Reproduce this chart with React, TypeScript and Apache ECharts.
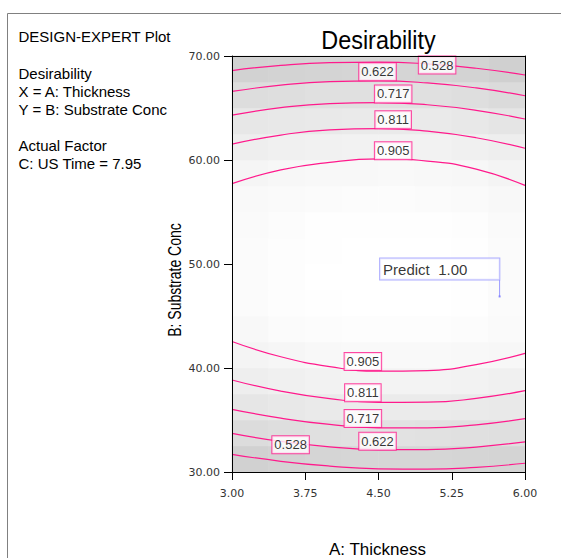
import React, { useEffect, useRef } from 'react';
import * as echarts from 'echarts';

// Axis ranges / ticks
const X_MIN = 3.0, X_MAX = 6.0, X_STEP = 0.75;
const Y_MIN = 30, Y_MAX = 70, Y_STEP = 10;

// Background shading (desirability estimate per cell), rows bottom -> top
const HEAT_X = ['3.19', '3.56', '3.94', '4.31', '4.69', '5.06', '5.44', '5.81'];
const HEAT_Y = ['31.25', '33.75', '36.25', '38.75', '41.25', '43.75', '46.25', '48.75',
  '51.25', '53.75', '56.25', '58.75', '61.25', '63.75', '66.25', '68.75'];
const HEAT_ROWS: number[][] = [
  [0.520, 0.544, 0.562, 0.572, 0.576, 0.574, 0.566, 0.554],
  [0.636, 0.661, 0.680, 0.690, 0.694, 0.691, 0.682, 0.667],
  [0.736, 0.761, 0.780, 0.790, 0.794, 0.791, 0.781, 0.766],
  [0.820, 0.844, 0.861, 0.872, 0.875, 0.872, 0.862, 0.846],
  [0.885, 0.909, 0.926, 0.937, 0.940, 0.937, 0.929, 0.915],
  [0.930, 0.955, 0.970, 0.977, 0.980, 0.978, 0.968, 0.950],
  [0.960, 0.980, 0.994, 0.999, 1.000, 0.998, 0.985, 0.960],
  [0.962, 0.982, 0.996, 1.000, 1.000, 0.999, 0.986, 0.962],
  [0.960, 0.980, 0.994, 0.999, 1.000, 0.998, 0.985, 0.958],
  [0.950, 0.972, 0.985, 0.989, 0.990, 0.987, 0.975, 0.948],
  [0.935, 0.950, 0.960, 0.964, 0.965, 0.962, 0.952, 0.930],
  [0.895, 0.912, 0.924, 0.931, 0.934, 0.929, 0.913, 0.887],
  [0.828, 0.845, 0.858, 0.865, 0.868, 0.862, 0.845, 0.818],
  [0.747, 0.762, 0.774, 0.781, 0.783, 0.777, 0.760, 0.733],
  [0.645, 0.661, 0.673, 0.680, 0.682, 0.676, 0.658, 0.628],
  [0.528, 0.543, 0.554, 0.560, 0.562, 0.556, 0.539, 0.510],
];

// Contour lines: B: Substrate Conc read at A: Thickness = 3.0, 3.5, ..., 6.0
const CONTOUR_X = [3.0, 3.5, 4.0, 4.5, 5.0, 5.5, 6.0];
const TOP_0528 = [68.60, 69.10, 69.37, 69.42, 69.24, 68.82, 68.17];
const TOP_0622 = [66.59, 67.20, 67.54, 67.61, 67.41, 66.93, 66.18];
const TOP_0717 = [64.31, 65.03, 65.43, 65.52, 65.31, 64.78, 63.94];
const TOP_0811 = [61.52, 62.40, 62.90, 63.02, 62.77, 62.14, 61.13];
const TOP_0905 = [57.73, 59.05, 59.78, 60.10, 59.90, 59.12, 57.56];
const BOT_0905 = [42.55, 41.08, 40.13, 39.69, 39.75, 40.33, 41.41];
const BOT_0811 = [38.85, 37.77, 37.05, 36.70, 36.71, 37.08, 37.82];
const BOT_0717 = [36.03, 35.18, 34.57, 34.25, 34.24, 34.54, 35.14];
const BOT_0622 = [33.72, 32.94, 32.42, 32.16, 32.15, 32.40, 32.90];
const BOT_0528 = [31.70, 31.03, 30.57, 30.31, 30.27, 30.45, 30.84];
const CONTOURS = [TOP_0528, TOP_0622, TOP_0717, TOP_0811, TOP_0905, BOT_0905, BOT_0811, BOT_0717, BOT_0622, BOT_0528];

// Contour labels [x, y, text]
const CONTOUR_LABELS: [number, number, string][] = [
  [5.10, 69.13, '0.528'], [4.49, 68.49, '0.622'], [4.65, 66.35, '0.717'], [4.65, 63.88, '0.811'], [4.65, 60.88, '0.905'],
  [4.34, 40.62, '0.905'], [4.34, 37.62, '0.811'], [4.34, 35.14, '0.717'], [4.49, 32.95, '0.622'], [3.60, 32.63, '0.528'],
];

// Prediction flag
const PREDICT_POINT = [5.74, 46.88];
const PREDICT_FLAG_TOP = [5.74, 48.46];
const PREDICT_TEXT = 'Predict  1.00';

const INFO_LINES = [
  { text: 'DESIGN-EXPERT Plot', y: 36.5 },
  { text: 'Desirability', y: 73.5 },
  { text: 'X = A: Thickness', y: 91.5 },
  { text: 'Y = B: Substrate Conc', y: 109.5 },
  { text: 'Actual Factor', y: 145.5 },
  { text: 'C: US Time = 7.95', y: 163.5 },
];

const PINK = '#ff1a8c';
const SANS = "'Liberation Sans', Arial, sans-serif";

export default function App() {
  const ref = useRef<HTMLDivElement>(null);
  useEffect(() => {
    const chart = echarts.init(ref.current!, undefined, { renderer: 'svg' });
    const heat: number[][] = [];
    HEAT_ROWS.forEach((row, yi) => row.forEach((v, xi) => heat.push([xi, yi, v])));
    const gridPos = { left: 232, top: 56, width: 293, height: 416 };
    const lineSeries = CONTOURS.map((ys) => ({
      type: 'line', xAxisIndex: 1, yAxisIndex: 1,
      data: ys.map((y, i) => [CONTOUR_X[i], y]), smooth: 0.5, symbol: 'none',
      lineStyle: { color: PINK, width: 1.2 }, z: 3, silent: true,
    }));
    const option: any = {
      animation: false,
      backgroundColor: '#ffffff',
      grid: [{ ...gridPos }, { ...gridPos }],
      visualMap: {
        show: false, type: 'continuous', min: 0.48, max: 1.0, seriesIndex: 0,
        inRange: { color: ['#cdcdcd', '#ffffff'] },
      },
      xAxis: [
        { gridIndex: 0, type: 'category', data: HEAT_X, show: false },
        {
          gridIndex: 1, type: 'value', min: X_MIN, max: X_MAX, interval: X_STEP, z: 10,
          axisLine: { show: true, onZero: false, lineStyle: { color: '#000', width: 1 } },
          axisTick: { show: true, length: 8, lineStyle: { color: '#000' } },
          axisLabel: { margin: 16, fontSize: 11, fontFamily: "'DejaVu Sans', sans-serif", color: '#333', formatter: (v: number) => v.toFixed(2) },
          splitLine: { show: false },
        },
        {
          gridIndex: 1, type: 'value', position: 'top', min: X_MIN, max: X_MAX, z: 10,
          axisLine: { show: true, onZero: false, lineStyle: { color: '#000', width: 1 } },
          axisTick: { show: false }, axisLabel: { show: false }, splitLine: { show: false },
        },
      ],
      yAxis: [
        { gridIndex: 0, type: 'category', data: HEAT_Y, show: false },
        {
          gridIndex: 1, type: 'value', min: Y_MIN, max: Y_MAX, interval: Y_STEP, z: 10,
          axisLine: { show: true, onZero: false, lineStyle: { color: '#000', width: 1 } },
          axisTick: { show: true, length: 8, lineStyle: { color: '#000' } },
          axisLabel: { margin: 12, fontSize: 11, fontFamily: "'DejaVu Sans', sans-serif", color: '#333', formatter: (v: number) => v.toFixed(2) },
          splitLine: { show: false },
        },
        {
          gridIndex: 1, type: 'value', position: 'right', min: Y_MIN, max: Y_MAX, z: 10,
          axisLine: { show: true, onZero: false, lineStyle: { color: '#000', width: 1 } },
          axisTick: { show: false }, axisLabel: { show: false }, splitLine: { show: false },
        },
      ],
      series: [
        {
          type: 'heatmap', xAxisIndex: 0, yAxisIndex: 0, data: heat, silent: true, z: 1,
          itemStyle: { borderWidth: 0 },
        },
        ...lineSeries,
        {
          type: 'scatter', xAxisIndex: 1, yAxisIndex: 1, z: 6, silent: true,
          data: CONTOUR_LABELS.map((l) => [l[0], l[1], l[2]]),
          symbolSize: 1, itemStyle: { color: 'rgba(0,0,0,0)' },
          label: {
            show: true, position: 'inside', formatter: (p: any) => p.value[2],
            fontSize: 13, fontFamily: SANS, color: '#000', lineHeight: 15,
            backgroundColor: '#ffffff', borderColor: PINK, borderWidth: 1, padding: [1, 2, 1, 2],
          },
        },
        {
          type: 'line', xAxisIndex: 1, yAxisIndex: 1, z: 6, silent: true,
          data: [PREDICT_POINT, PREDICT_FLAG_TOP], symbol: 'none',
          lineStyle: { color: '#9a9aff', width: 1 },
        },
        {
          type: 'scatter', xAxisIndex: 1, yAxisIndex: 1, z: 7, silent: true,
          data: [PREDICT_POINT], symbol: 'rect', symbolSize: 2, itemStyle: { color: '#7070ff' },
        },
        {
          type: 'scatter', xAxisIndex: 1, yAxisIndex: 1, z: 7, silent: true,
          data: [PREDICT_FLAG_TOP], symbolSize: 1, itemStyle: { color: 'rgba(0,0,0,0)' },
          label: {
            show: true, position: [-119, -21], formatter: () => PREDICT_TEXT,
            align: 'left', verticalAlign: 'top',
            fontSize: 15, fontFamily: SANS, color: '#000', lineHeight: 17,
            backgroundColor: '#ffffff', borderColor: '#9a9aff', borderWidth: 1, padding: [2, 32, 2, 3],
          },
        },
      ],
      graphic: {
        elements: [
          {
            type: 'rect', shape: { x: 7.5, y: 13.5, width: 700, height: 700 }, silent: true, z: 0,
            style: { fill: 'none', stroke: '#808080', lineWidth: 1 },
          },
          ...INFO_LINES.map((l) => ({
            type: 'text', x: 18.5, y: l.y, silent: true,
            style: { text: l.text, fontSize: 15, fontFamily: SANS, fill: '#000', align: 'left', verticalAlign: 'middle' },
          })),
          {
            type: 'text', x: 378.5, y: 40.5, scaleX: 0.9, silent: true,
            style: { text: 'Desirability', fontSize: 26, fontFamily: SANS, fill: '#000', align: 'center', verticalAlign: 'middle' },
          },
          {
            type: 'text', x: 377.5, y: 549, silent: true,
            style: { text: 'A: Thickness', fontSize: 17, fontFamily: SANS, fill: '#000', align: 'center', verticalAlign: 'middle' },
          },
          {
            type: 'text', x: 175, y: 280, rotation: Math.PI / 2, scaleX: 0.8, silent: true,
            style: { text: 'B: Substrate Conc', fontSize: 17.5, fontFamily: SANS, fill: '#000', align: 'center', verticalAlign: 'middle' },
          },
        ],
      },
    };
    chart.setOption(option);
    return () => chart.dispose();
  }, []);
  return (
    <div
      ref={ref}
      style={{ position: 'fixed', left: 0, top: 0, width: 561, height: 558, background: '#fff' }}
    />
  );
}
